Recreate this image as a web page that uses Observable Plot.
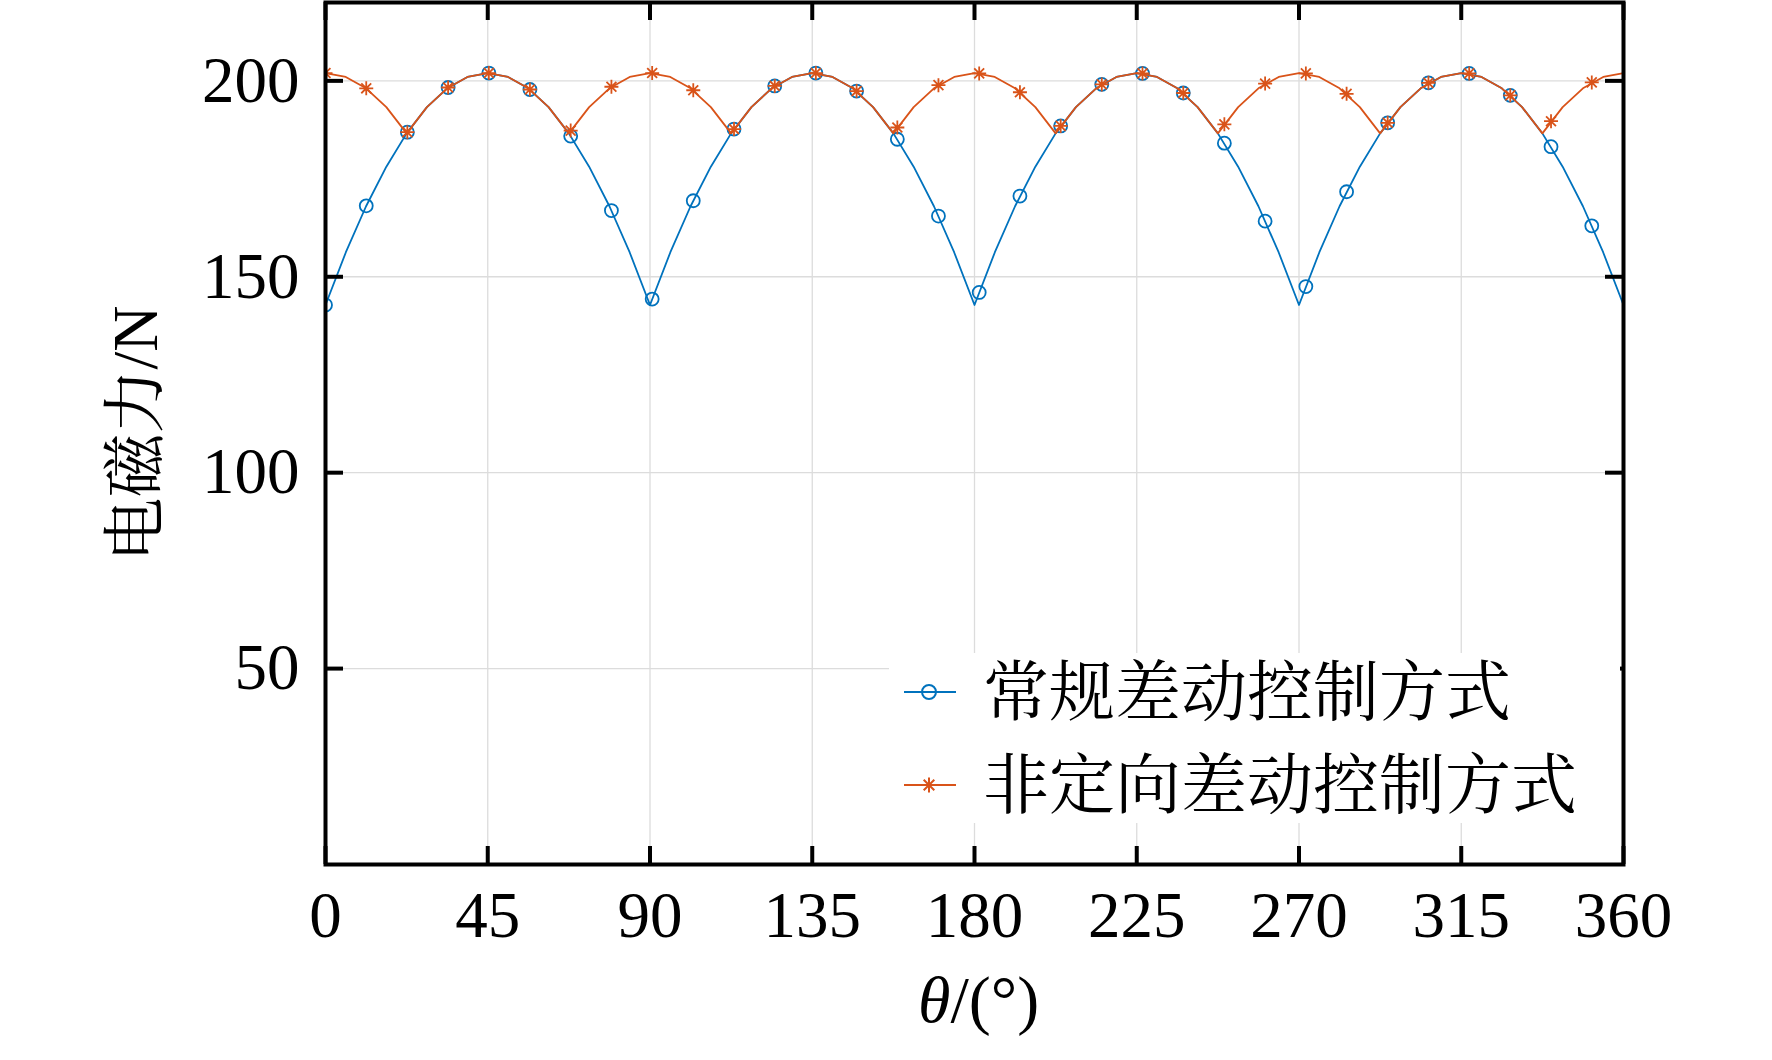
<!DOCTYPE html>
<html>
<head>
<meta charset="utf-8">
<script src="https://cdn.jsdelivr.net/npm/d3@7"></script>
<script src="https://cdn.jsdelivr.net/npm/@observablehq/plot@0.6"></script>
<style>
  html, body { margin: 0; padding: 0; background: #fff; }
  #wrap { position: relative; width: 1772px; height: 1060px; overflow: hidden; background: #fff; }
  #legend { position: absolute; left: 889px; top: 653px; }
</style>
</head>
<body>
<div id="wrap"></div>
<script>
// ---- data ----
const xTicks = [0, 45, 90, 135, 180, 225, 270, 315, 360];
const yTicks = [50, 100, 150, 200];
const seriesNames = ["常规差动控制方式", "非定向差动控制方式"];
const xLabelSymbol = "θ";
const xLabelUnit = "/(°)";
const yLabel = "电磁力/N";

// curve sample angles (deg)
const lineTheta = [
  0, 5.625, 11.25, 16.875, 22.5, 28.125, 33.75, 39.375,
  45, 50.625, 56.25, 61.875, 67.5, 73.125, 78.75, 84.375,
  90, 95.625, 101.25, 106.875, 112.5, 118.125, 123.75, 129.375,
  135, 140.625, 146.25, 151.875, 157.5, 163.125, 168.75, 174.375,
  180, 185.625, 191.25, 196.875, 202.5, 208.125, 213.75, 219.375,
  225, 230.625, 236.25, 241.875, 247.5, 253.125, 258.75, 264.375,
  270, 275.625, 281.25, 286.875, 292.5, 298.125, 303.75, 309.375,
  315, 320.625, 326.25, 331.875, 337.5, 343.125, 348.75, 354.375,
  360
];
// 常规差动控制方式 curve (N)
const conventionalLine = [
  142.8, 156.2, 168.0, 178.1, 186.6, 193.3, 198.1, 201.0,
  202.0, 201.0, 198.1, 193.3, 186.6, 178.1, 168.0, 156.2,
  142.8, 156.2, 168.0, 178.1, 186.6, 193.3, 198.1, 201.0,
  202.0, 201.0, 198.1, 193.3, 186.6, 178.1, 168.0, 156.2,
  142.8, 156.2, 168.0, 178.1, 186.6, 193.3, 198.1, 201.0,
  202.0, 201.0, 198.1, 193.3, 186.6, 178.1, 168.0, 156.2,
  142.8, 156.2, 168.0, 178.1, 186.6, 193.3, 198.1, 201.0,
  202.0, 201.0, 198.1, 193.3, 186.6, 178.1, 168.0, 156.2,
  142.8
];
// 非定向差动控制方式 curve (N)
const nondirectionalLine = [
  202.0, 201.0, 198.1, 193.3, 186.6, 193.3, 198.1, 201.0,
  202.0, 201.0, 198.1, 193.3, 186.6, 193.3, 198.1, 201.0,
  202.0, 201.0, 198.1, 193.3, 186.6, 193.3, 198.1, 201.0,
  202.0, 201.0, 198.1, 193.3, 186.6, 193.3, 198.1, 201.0,
  202.0, 201.0, 198.1, 193.3, 186.6, 193.3, 198.1, 201.0,
  202.0, 201.0, 198.1, 193.3, 186.6, 193.3, 198.1, 201.0,
  202.0, 201.0, 198.1, 193.3, 186.6, 193.3, 198.1, 201.0,
  202.0, 201.0, 198.1, 193.3, 186.6, 193.3, 198.1, 201.0,
  202.0
];
// marker angles (deg)
const markerTheta = [
  0, 11.3, 22.7, 34.0, 45.3, 56.7, 68.0, 79.3,
  90.6, 102.0, 113.3, 124.6, 136.0, 147.3, 158.6, 170.0,
  181.3, 192.6, 203.9, 215.3, 226.6, 237.9, 249.3, 260.6,
  271.9, 283.2, 294.6, 305.9, 317.2, 328.6, 339.9, 351.2
];
const conventionalMarkers = [
  142.8, 168.1, 186.9, 198.3, 202.0, 197.8, 185.9, 166.9,
  144.3, 169.4, 187.7, 198.7, 202.0, 197.4, 185.1, 165.5,
  146.0, 170.6, 188.5, 199.1, 201.9, 196.9, 184.1, 164.2,
  147.5, 171.7, 189.3, 199.5, 201.9, 196.3, 183.2, 163.0
];
const nondirectionalMarkers = [
  202.0, 198.1, 186.9, 198.3, 202.0, 197.8, 187.3, 198.5,
  202.0, 197.6, 187.7, 198.7, 202.0, 197.4, 188.1, 198.9,
  201.9, 197.1, 188.5, 199.1, 201.9, 196.9, 188.9, 199.3,
  201.9, 196.7, 189.3, 199.5, 201.9, 196.3, 189.7, 199.6
];

// ---- layout & style ----
const W = 1772, H = 1060;
const mL = 325, mR = 149, mT = 2, mB = 196;
const plotW = W - mL - mR, plotH = H - mT - mB;
const BLUE = "#0072BD", ORANGE = "#D95319", GRID = "#dcdcdc";
const SERIF = '"Liberation Serif","Times New Roman","Noto Serif CJK SC","Noto Sans CJK SC",serif';
const TICK = 18;

const asterisk = {
  draw(ctx, size) {
    const r = Math.sqrt(size / Math.PI), d = r * Math.SQRT1_2;
    ctx.moveTo(0, -r); ctx.lineTo(0, r);
    ctx.moveTo(-r, 0); ctx.lineTo(r, 0);
    ctx.moveTo(-d, -d); ctx.lineTo(d, d);
    ctx.moveTo(-d, d); ctx.lineTo(d, -d);
  }
};

const lineRows = lineTheta.map((t, i) => ({t, a: conventionalLine[i], b: nondirectionalLine[i]}));
const markRows = markerTheta.map((t, i) => ({t, a: conventionalMarkers[i], b: nondirectionalMarkers[i]}));
const innerX = xTicks.slice(1, -1);

const chart = Plot.plot({
  width: W, height: H,
  marginLeft: mL, marginRight: mR, marginTop: mT, marginBottom: mB,
  style: {fontFamily: SERIF, background: "#fff", color: "black", overflow: "visible"},
  x: {domain: [0, 360], axis: null},
  y: {domain: [0, 220], axis: null},
  marks: [
    Plot.gridX(innerX, {stroke: GRID, strokeOpacity: 1, strokeWidth: 1.3}),
    Plot.gridY(yTicks, {stroke: GRID, strokeOpacity: 1, strokeWidth: 1.3}),
    Plot.line(lineRows, {x: "t", y: "a", stroke: BLUE, strokeWidth: 1.8}),
    Plot.dot(markRows, {x: "t", y: "a", symbol: "circle", r: 6.5, stroke: BLUE, strokeWidth: 1.8, fill: "none", clip: "frame"}),
    Plot.line(lineRows, {x: "t", y: "b", stroke: ORANGE, strokeWidth: 1.8}),
    Plot.dot(markRows, {x: "t", y: "b", symbol: asterisk, r: 7, stroke: ORANGE, strokeWidth: 1.8, fill: "none", clip: "frame"}),
    // inward ticks on all four sides
    Plot.tickX(xTicks, {x: d => d, insetTop: plotH - TICK, stroke: "black", strokeWidth: 4}),
    Plot.tickX(xTicks, {x: d => d, insetBottom: plotH - TICK, stroke: "black", strokeWidth: 4}),
    Plot.tickY(yTicks, {y: d => d, insetRight: plotW - TICK, stroke: "black", strokeWidth: 4}),
    Plot.tickY(yTicks, {y: d => d, insetLeft: plotW - TICK, stroke: "black", strokeWidth: 4}),
    Plot.frame({stroke: "black", strokeWidth: 4}),
    Plot.axisX(xTicks, {tickSize: 0, tickPadding: 26, fontSize: 65, fontFamily: SERIF, label: null}),
    Plot.axisY(yTicks, {tickSize: 0, tickPadding: 26, fontSize: 65, fontFamily: SERIF, label: null}),
    Plot.text([yLabel], {frameAnchor: "left", dx: -189, rotate: -90, fontSize: 64, fontFamily: SERIF, textAnchor: "middle", lineAnchor: "middle", fill: "black"}),
    Plot.text([xLabelSymbol], {frameAnchor: "bottom", dx: -24, dy: 136, fontSize: 66, fontFamily: SERIF, fontStyle: "italic", textAnchor: "end", lineAnchor: "middle", fill: "black"}),
    Plot.text([xLabelUnit], {frameAnchor: "bottom", dx: -24, dy: 136, fontSize: 66, fontFamily: SERIF, textAnchor: "start", lineAnchor: "middle", fill: "black"})
  ]
});

const wrap = document.getElementById("wrap");
wrap.appendChild(chart);

// ---- legend (inside the plot area, white background) ----
const ns = "http://www.w3.org/2000/svg";
const leg = document.createElementNS(ns, "svg");
leg.setAttribute("id", "legend");
leg.setAttribute("width", 731);
leg.setAttribute("height", 170);
const bg = document.createElementNS(ns, "rect");
bg.setAttribute("width", 731); bg.setAttribute("height", 170); bg.setAttribute("fill", "#fff");
leg.appendChild(bg);
const rowsY = [39, 132];
const colors = [BLUE, ORANGE];
seriesNames.forEach((name, i) => {
  const y = rowsY[i];
  const ln = document.createElementNS(ns, "line");
  ln.setAttribute("x1", 15); ln.setAttribute("x2", 67);
  ln.setAttribute("y1", y); ln.setAttribute("y2", y);
  ln.setAttribute("stroke", colors[i]); ln.setAttribute("stroke-width", 2);
  leg.appendChild(ln);
  const cx = 40;
  if (i === 0) {
    const c = document.createElementNS(ns, "circle");
    c.setAttribute("cx", cx); c.setAttribute("cy", y); c.setAttribute("r", 7);
    c.setAttribute("fill", "none"); c.setAttribute("stroke", BLUE); c.setAttribute("stroke-width", 2);
    leg.appendChild(c);
  } else {
    const p = document.createElementNS(ns, "path");
    const r = 7.5, d = r * Math.SQRT1_2;
    p.setAttribute("d", `M${cx},${y - r}L${cx},${y + r}M${cx - r},${y}L${cx + r},${y}M${cx - d},${y - d}L${cx + d},${y + d}M${cx - d},${y + d}L${cx + d},${y - d}`);
    p.setAttribute("stroke", ORANGE); p.setAttribute("stroke-width", 2); p.setAttribute("fill", "none");
    leg.appendChild(p);
  }
  const t = document.createElementNS(ns, "text");
  t.setAttribute("x", 94); t.setAttribute("y", y);
  t.setAttribute("dominant-baseline", "central");
  t.setAttribute("font-size", 66);
  t.setAttribute("font-family", SERIF);
  t.setAttribute("fill", "black");
  t.textContent = name;
  leg.appendChild(t);
});
wrap.appendChild(leg);
</script>
</body>
</html>
